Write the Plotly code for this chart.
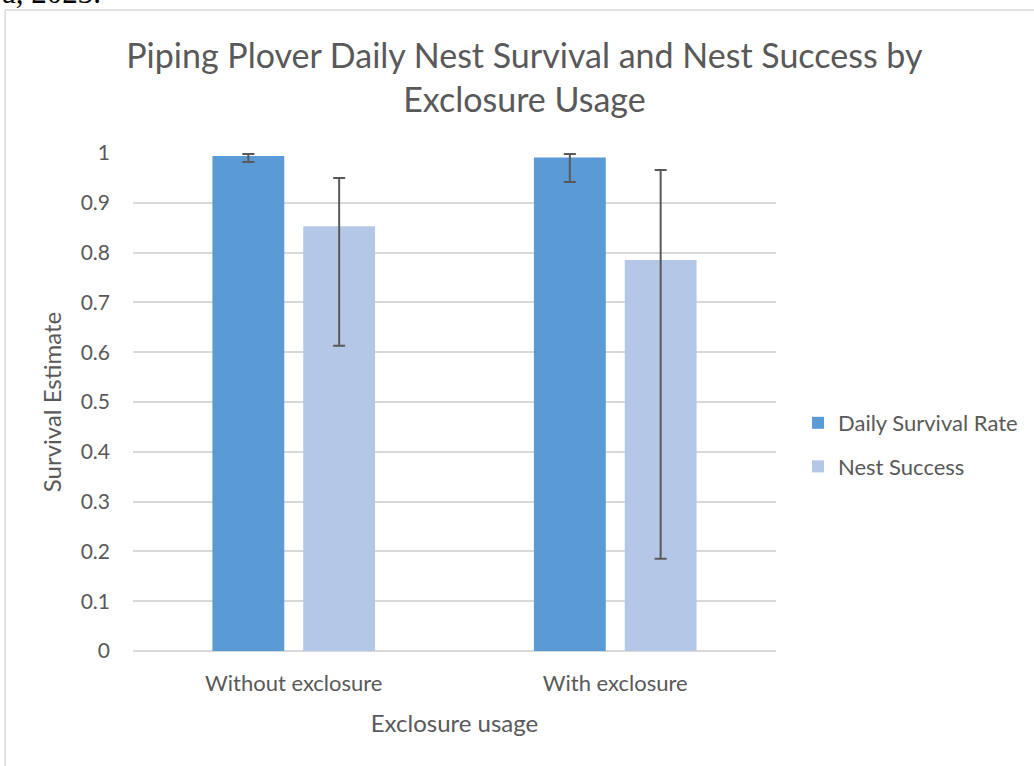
import plotly.graph_objects as go

categories = ["Without exclosure", "With exclosure"]
dsr = [0.994, 0.991]
dsr_hi = [0.998, 0.998]
dsr_lo = [0.982, 0.942]
ns = [0.853, 0.785]
ns_hi = [0.950, 0.966]
ns_lo = [0.613, 0.185]
tick_vals = [0, 0.1, 0.2, 0.3, 0.4, 0.5, 0.6, 0.7, 0.8, 0.9, 1]
tick_text = ["0", "0.1", "0.2", "0.3", "0.4", "0.5", "0.6", "0.7", "0.8", "0.9", "1"]

FONT = "Lato"
GRAY = "#595959"

# pixel geometry helpers
L, R, T, B = 133, 777, 153, 651
W, H = 1034, 766
def px(x):
    return (x - L) / (R - L)
def py(y):
    return (B - y) / (B - T)

def err(vals, hi, lo):
    return dict(type="data", symmetric=False,
                array=[h - v for h, v in zip(hi, vals)],
                arrayminus=[v - l for v, l in zip(vals, lo)],
                color=GRAY, thickness=2, width=6)

fig = go.Figure()
fig.add_trace(go.Bar(name="Daily Survival Rate", x=categories, y=dsr,
                     marker=dict(color="#5b9bd5", line=dict(width=0)),
                     error_y=err(dsr, dsr_hi, dsr_lo), legendgroup="a"))
fig.add_trace(go.Bar(name="Nest Success", x=categories, y=ns,
                     marker=dict(color="#b4c7e7", line=dict(width=0)),
                     error_y=err(ns, ns_hi, ns_lo), legendgroup="b"))

fig.update_layout(
    width=W, height=H,
    paper_bgcolor="white", plot_bgcolor="white",
    margin=dict(l=L, r=W - R, t=T, b=H - B, pad=0),
    barmode="group", bargap=0.435, bargroupgap=0.209,
    font=dict(family=FONT, color=GRAY),
    title=dict(text="Piping Plover Daily Nest Survival and Nest Success by<br>Exclosure Usage",
               x=px(525), xref="paper", xanchor="center",
               y=1 - 68 / H, yref="container", yanchor="middle",
               font=dict(family=FONT, size=34, color=GRAY)),
    xaxis=dict(showgrid=False, showline=False, zeroline=False, ticks="",
               tickfont=dict(size=22, color=GRAY), ticklabelstandoff=17,
               title=dict(text="Exclosure usage", font=dict(size=24, color=GRAY), standoff=20)),
    yaxis=dict(range=[0, 1], tickvals=tick_vals, ticktext=tick_text,
               showgrid=True, gridcolor="#d9d9d9", gridwidth=1.5,
               zeroline=True, zerolinecolor="#d9d9d9", zerolinewidth=1.5,
               showline=False, ticks="", ticklabelstandoff=22,
               tickfont=dict(size=21, color=GRAY),
               title=dict(text="Survival Estimate", font=dict(size=24, color=GRAY), standoff=12)),
    legend=dict(x=px(798), y=py(445), xanchor="left", yanchor="middle",
                font=dict(size=22, color=GRAY), tracegroupgap=12,
                itemwidth=30, bgcolor="rgba(0,0,0,0)"),
    showlegend=True,
)

# chart frame border
fig.add_shape(type="line", xref="paper", yref="paper",
              x0=px(5), x1=px(5), y0=py(10), y1=py(800),
              line=dict(color="#d9d9d9", width=1.5))
fig.add_shape(type="line", xref="paper", yref="paper",
              x0=px(5), x1=px(1100), y0=py(10), y1=py(10),
              line=dict(color="#d9d9d9", width=1.5))

# surrounding document text, clipped at top
fig.add_annotation(text="a, 2023.", xref="paper", yref="paper",
                   x=px(0), y=py(12), xanchor="left", yanchor="bottom",
                   showarrow=False,
                   font=dict(family="Liberation Serif", size=31, color="black"))

fig.write_html("out.html", config={"displayModeBar": False},
               post_script="document.body.style.margin='0';document.body.style.overflow='hidden';")
